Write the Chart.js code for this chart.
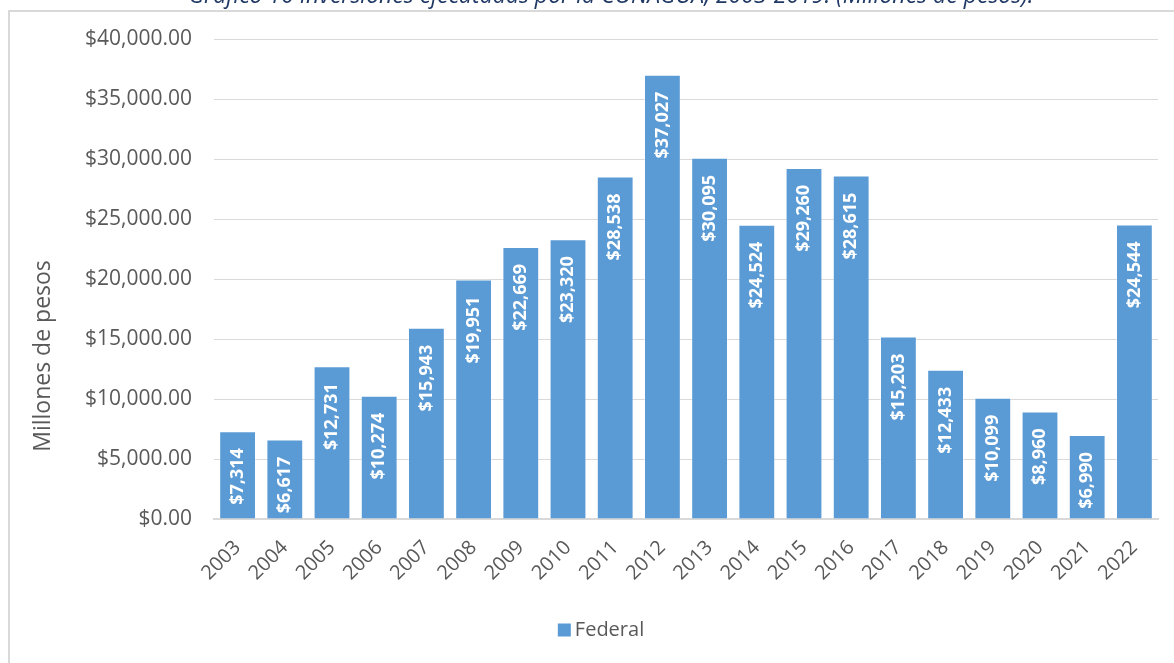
<!DOCTYPE html>
<html>
<head>
<meta charset="utf-8">
<script src="https://cdn.jsdelivr.net/npm/chart.js@4.4.1/dist/chart.umd.min.js"></script>
<style>
  html, body { margin: 0; padding: 0; background: #ffffff; }
  #wrap { width: 1174px; height: 663px; }
</style>
</head>
<body>
<div id="wrap"><canvas id="canvas" width="1174" height="663"></canvas></div>
<script>
const years = ["2003", "2004", "2005", "2006", "2007", "2008", "2009", "2010", "2011", "2012",
  "2013", "2014", "2015", "2016", "2017", "2018", "2019", "2020", "2021", "2022"];
const federal = [7314, 6617, 12731, 10274, 15943, 19951, 22669, 23320, 28538, 37027,
  30095, 24524, 29260, 28615, 15203, 12433, 10099, 8960, 6990, 24544];
const yTicks = [0, 5000, 10000, 15000, 20000, 25000, 30000, 35000, 40000];
const chartTitle = "Gráfico 10 Inversiones ejecutadas por la CONAGUA, 2003-2019. (Millones de pesos).";
const yTitle = "Millones de pesos";

const FONT = '"Open Sans", "Noto Sans", sans-serif';
const GRAY = "#D9D9D9";
const TEXT = "#595959";

// frame, cut-off title, y axis title and white background
const framePlugin = {
  id: "framePlugin",
  beforeDraw(chart) {
    const { ctx, width, height } = chart;
    ctx.save();
    ctx.fillStyle = "#ffffff";
    ctx.fillRect(0, 0, width, height);
    ctx.font = 'italic 23px ' + FONT;
    ctx.fillStyle = "#1F3864";
    ctx.textAlign = "center";
    ctx.textBaseline = "alphabetic";
    ctx.fillText(chartTitle, 611, 3);
    ctx.strokeStyle = GRAY;
    ctx.lineWidth = 2;
    ctx.beginPath();
    ctx.moveTo(width, 11);
    ctx.lineTo(9, 11);
    ctx.lineTo(9, height);
    ctx.stroke();

    // y axis title sits a bit below the middle of the axis in the original
    ctx.save();
    ctx.translate(43, 356);
    ctx.rotate(-Math.PI / 2);
    ctx.font = '23px ' + FONT;
    ctx.fillStyle = TEXT;
    ctx.textAlign = "center";
    ctx.textBaseline = "middle";
    ctx.fillText(yTitle, 0, 0);
    ctx.restore();
    ctx.restore();
  },
};

// rotated value labels inside the top of each bar
const barLabels = {
  id: "barLabels",
  afterDatasetsDraw(chart) {
    const { ctx } = chart;
    const meta = chart.getDatasetMeta(0);
    ctx.save();
    ctx.font = 'bold 18px ' + FONT;
    ctx.fillStyle = "#ffffff";
    ctx.textAlign = "right";
    ctx.textBaseline = "middle";
    meta.data.forEach((bar, i) => {
      const label = "$" + federal[i].toLocaleString("en-US");
      ctx.save();
      ctx.translate(bar.x, bar.y + 17);
      ctx.rotate(-Math.PI / 2);
      ctx.fillText(label, 0, 0);
      ctx.restore();
    });
    ctx.restore();
  },
};

// legend drawn below the axis, centred like the reference
const legendBox = {
  id: "legendBox",
  afterDraw(chart) {
    const { ctx } = chart;
    const ds = chart.data.datasets[0];
    ctx.save();
    ctx.font = '20px ' + FONT;
    const tw = ctx.measureText(ds.label).width;
    const total = 13 + 4 + tw;
    const x0 = 601 - total / 2;
    const yc = 630;
    ctx.fillStyle = ds.backgroundColor;
    ctx.fillRect(x0, yc - 6.5, 13, 13);
    ctx.fillStyle = TEXT;
    ctx.textAlign = "left";
    ctx.textBaseline = "middle";
    ctx.fillText(ds.label, x0 + 17, yc);
    ctx.restore();
  },
};

new Chart(document.getElementById("canvas").getContext("2d"), {
  type: "bar",
  data: {
    labels: years,
    datasets: [
      {
        label: "Federal",
        data: federal,
        backgroundColor: "#5B9BD5",
        borderColor: "rgba(255,255,255,0.35)",
        borderWidth: 1,
        barPercentage: 0.78,
        categoryPercentage: 1,
      },
    ],
  },
  options: {
    responsive: false,
    animation: false,
    layout: { padding: { top: 39, right: 16, bottom: 0, left: 0 } },
    plugins: {
      title: { display: false },
      tooltip: { enabled: false },
      legend: { display: false },
    },
    scales: {
      x: {
        grid: { display: false },
        border: { color: GRAY, width: 2 },
        ticks: {
          color: TEXT,
          font: { family: FONT, size: 20 },
          maxRotation: 45,
          minRotation: 45,
          padding: 9,
          autoSkip: false,
        },
        afterFit(scale) { scale.height = 144; },
      },
      y: {
        min: 0,
        max: 40000,
        afterBuildTicks(scale) { scale.ticks = yTicks.map(v => ({ value: v })); },
        grid: { color: GRAY, lineWidth: 1, drawTicks: false },
        border: { display: false },
        ticks: {
          color: TEXT,
          font: { family: FONT, size: 21 },
          padding: 22,
          callback: v => "$" + v.toLocaleString("en-US", { minimumFractionDigits: 2, maximumFractionDigits: 2 }),
        },
        afterFit(scale) { scale.width = 214; },
      },
    },
  },
  plugins: [framePlugin, barLabels, legendBox],
});
</script>
</body>
</html>
